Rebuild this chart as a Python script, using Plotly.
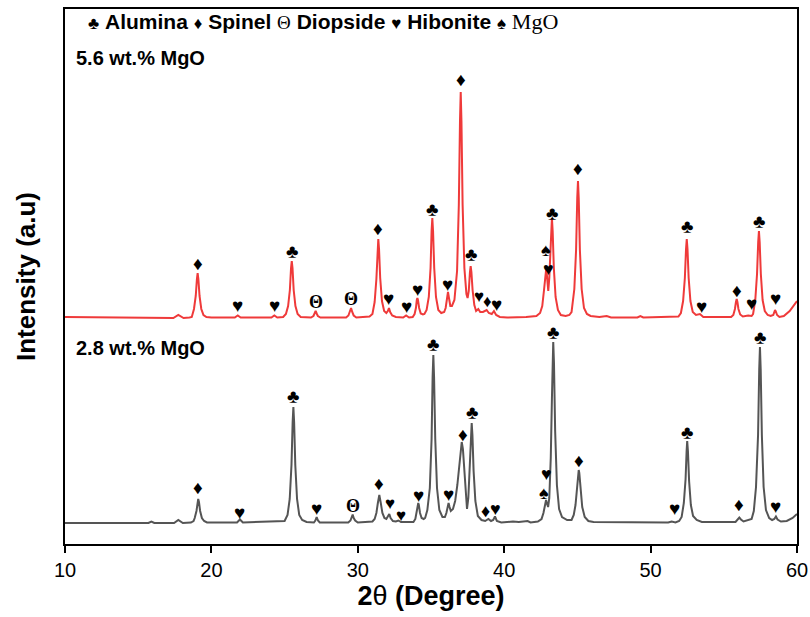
import numpy as np
import plotly.graph_objects as go

# ---------------- data: (2theta [deg], intensity above the pattern baseline [a.u.]) ----------------
pattern_56 = [
    (10.0, 1), (17.4, 0), (17.74, 3), (18.1, 0),
    (18.5, 0.5), (18.66, 1), (18.81, 9), (18.93, 22), (19.01, 39), (19.06, 45), (19.11, 39),
    (19.19, 22), (19.31, 9), (19.46, 3), (19.66, 1), (20.0, 0.5),
    (21.6, 0.5), (21.8, 2.5), (22.0, 0.5), (24.1, 0.5), (24.3, 2.5), (24.5, 0.5),
    (24.9, 1), (25.09, 4), (25.24, 12), (25.36, 28), (25.44, 50), (25.49, 57), (25.54, 50),
    (25.62, 28), (25.74, 12), (25.89, 4), (26.1, 1),
    (26.8, 0.5), (26.97, 2), (27.05, 4.5), (27.12, 7), (27.19, 4.5), (27.27, 2), (27.45, 0.5),
    (29.2, 0.5), (29.36, 2.5), (29.46, 6), (29.54, 10), (29.62, 6), (29.72, 2.5), (29.9, 0.5),
    (30.8, 1.5), (31.0, 4), (31.15, 16), (31.27, 39), (31.35, 69), (31.4, 79), (31.45, 69),
    (31.53, 40), (31.65, 17), (31.8, 7), (31.95, 5),
    (32.05, 7), (32.13, 10), (32.21, 6), (32.35, 2.5), (32.6, 1),
    (33.1, 0.5), (33.3, 2.5), (33.5, 0.5),
    (33.75, 1), (33.88, 4), (33.97, 10), (34.03, 18), (34.07, 20), (34.11, 18), (34.19, 10),
    (34.3, 4.5), (34.45, 3.5),
    (34.55, 4), (34.7, 8), (34.85, 21), (34.97, 50), (35.04, 87), (35.09, 100), (35.14, 87),
    (35.22, 50), (35.34, 21), (35.5, 8), (35.7, 5),
    (35.9, 6), (36.0, 10), (36.08, 19), (36.16, 26), (36.24, 19), (36.32, 12),
    (36.43, 12), (36.6, 18), (36.78, 47), (36.9, 113), (36.98, 197), (37.03, 226), (37.08, 197),
    (37.16, 113), (37.28, 50), (37.42, 24),
    (37.5, 20), (37.58, 27), (37.66, 46), (37.71, 52), (37.76, 46), (37.84, 28), (37.96, 13),
    (38.08, 7), (38.23, 9), (38.36, 6), (38.55, 6), (38.8, 8), (38.95, 5), (39.15, 4),
    (39.3, 7), (39.45, 3), (39.7, 1), (40.2, 0.5), (41.5, 1), (42.2, 2),
    (42.45, 5), (42.6, 12), (42.72, 28), (42.81, 44), (42.86, 48), (42.91, 44), (42.97, 30),
    (43.01, 27), (43.08, 40), (43.16, 75), (43.21, 93), (43.26, 100), (43.31, 87), (43.39, 50),
    (43.51, 21), (43.67, 8), (43.87, 3), (44.2, 2),
    (44.45, 3), (44.6, 6), (44.79, 29), (44.91, 68), (44.99, 120), (45.04, 137), (45.09, 120),
    (45.17, 68), (45.29, 29), (45.45, 10), (45.65, 4), (45.9, 2),
    (46.5, 1), (47.0, 2), (47.3, 0.5), (49.1, 0.5), (49.3, 2), (49.5, 0.5),
    (51.9, 1.5), (52.07, 5), (52.22, 17), (52.34, 40), (52.42, 69), (52.47, 79), (52.52, 69),
    (52.6, 40), (52.72, 17), (52.88, 6), (53.1, 3), (53.37, 4), (53.6, 1),
    (55.5, 1), (55.65, 3), (55.76, 9), (55.83, 16), (55.88, 19), (55.93, 16), (56.0, 9),
    (56.12, 3.5), (56.3, 1.5), (56.67, 2.5), (56.9, 2),
    (56.95, 3), (57.0, 4), (57.15, 18), (57.27, 44), (57.35, 76), (57.4, 87), (57.45, 76),
    (57.53, 44), (57.65, 18), (57.8, 7), (58.0, 3), (58.2, 2),
    (58.38, 3), (58.45, 6.5), (58.5, 8), (58.55, 6.5), (58.64, 3), (58.8, 1),
    (59.1, 2), (59.5, 7), (60.0, 17),
]

pattern_28 = [
    (10.0, 0), (15.7, 0), (15.9, 1.5), (16.1, 0), (17.45, 0), (17.74, 3), (18.05, 0),
    (18.6, 0.5), (18.78, 2), (18.86, 5), (18.98, 12), (19.05, 21), (19.1, 24), (19.15, 21),
    (19.23, 12), (19.35, 5), (19.5, 2), (19.7, 0.5),
    (21.75, 0.5), (21.95, 3.5), (22.15, 0.5),
    (25.0, 2), (25.2, 8), (25.35, 24), (25.47, 58), (25.55, 101), (25.6, 116), (25.65, 101),
    (25.73, 58), (25.85, 24), (26.0, 8), (26.2, 3), (26.5, 1),
    (27.0, 0.5), (27.1, 2.5), (27.19, 6), (27.28, 2.5), (27.4, 0.5),
    (29.35, 0.5), (29.5, 2.5), (29.58, 5), (29.65, 8.5), (29.72, 5), (29.82, 2.5), (30.0, 0.5),
    (31.0, 1.5), (31.15, 4), (31.27, 10), (31.37, 20), (31.47, 28), (31.57, 20), (31.68, 10),
    (31.82, 5), (31.95, 4),
    (32.07, 7), (32.15, 9), (32.24, 5), (32.4, 2), (32.6, 1.5), (32.77, 2.5), (32.95, 1),
    (33.8, 1), (33.93, 4), (34.02, 10), (34.09, 18), (34.13, 20), (34.17, 18), (34.25, 10),
    (34.36, 5), (34.5, 4),
    (34.6, 5), (34.75, 13), (34.92, 35), (35.04, 84), (35.11, 146), (35.16, 168), (35.21, 146),
    (35.29, 84), (35.41, 35), (35.57, 13), (35.78, 6),
    (35.95, 6), (36.05, 10), (36.13, 17), (36.2, 20), (36.27, 16), (36.35, 12),
    (36.5, 14), (36.65, 22), (36.8, 38), (36.92, 58), (37.02, 76), (37.1, 81), (37.18, 74),
    (37.28, 52), (37.38, 26), (37.46, 14),
    (37.55, 25), (37.65, 55), (37.73, 90), (37.78, 100), (37.83, 88), (37.91, 52), (38.03, 22),
    (38.2, 7), (38.45, 3), (38.7, 2), (38.92, 4), (39.1, 2), (39.25, 3), (39.37, 6.5),
    (39.5, 2), (39.8, 0.5), (40.6, 1.5), (41.0, 1), (41.6, 2), (41.8, 0.5), (42.3, 1.5),
    (42.55, 4), (42.68, 10), (42.78, 19), (42.86, 23), (42.93, 19), (43.0, 16), (43.08, 25),
    (43.18, 65), (43.26, 125), (43.31, 162), (43.35, 181), (43.4, 160), (43.48, 92), (43.6, 38),
    (43.75, 14), (43.95, 6), (44.3, 3),
    (44.6, 3), (44.75, 8), (44.87, 18), (44.98, 35), (45.05, 50), (45.09, 53), (45.13, 50),
    (45.21, 33), (45.33, 16), (45.5, 6), (45.75, 2), (46.1, 1),
    (51.2, 0.5), (51.44, 1.5), (51.7, 0.5),
    (51.95, 2), (52.12, 6), (52.27, 20), (52.39, 44), (52.46, 72), (52.5, 82), (52.55, 72),
    (52.63, 42), (52.75, 18), (52.9, 7), (53.15, 3), (53.5, 1),
    (55.8, 1), (55.96, 3.5), (56.06, 5.5), (56.17, 3.5), (56.35, 1.5),
    (56.9, 4), (57.05, 12), (57.2, 36), (57.34, 88), (57.42, 154), (57.47, 176), (57.52, 154),
    (57.6, 88), (57.72, 36), (57.88, 13), (58.1, 5), (58.3, 3),
    (58.45, 4), (58.56, 6.5), (58.67, 3.5), (58.9, 1.5), (59.3, 2), (59.7, 5), (60.0, 9),
]

# phase labels: (2theta, phase symbol, lift above the curve, glyph size)
marks_56 = [(19.06, "♦", 10, 19), (21.8, "♥", 10, 19), (24.3, "♥", 10, 19), (25.49, "♣", 10, 19),
            (27.12, "Θ", 9, 18), (29.54, "Θ", 9, 18), (31.4, "♦", 11, 19), (32.13, "♥", 10, 19),
            (33.3, "♥", 9, 19), (34.07, "♥", 9, 19), (35.09, "♣", 9, 19), (36.16, "♥", 8, 19),
            (37.03, "♦", 13, 19), (37.71, "♣", 12, 19), (38.3, "♥", 14, 17), (38.86, "♦", 10, 17),
            (39.5, "♥", 11, 19), (42.84, "♠", 22, 18), (43.04, "♥", 16, 18), (43.28, "♣", 10, 19),
            (45.04, "♦", 13, 19), (52.47, "♣", 13, 19), (53.49, "♥", 9, 19), (55.88, "♦", 9, 19),
            (56.86, "♥", 12, 19), (57.4, "♣", 10, 19), (58.5, "♥", 12, 19)]
marks_28 = [(19.1, "♦", 12, 19), (21.95, "♥", 7, 19), (25.6, "♣", 11, 19), (27.19, "♥", 9, 19),
            (29.65, "Θ", 9, 18), (31.47, "♦", 12, 19), (32.18, "♥", 12, 17), (32.97, "♥", 7, 17),
            (34.13, "♥", 8, 19), (35.16, "♣", 11, 19), (36.2, "♥", 9, 19), (37.16, "♦", 13, 19),
            (37.78, "♣", 11, 19), (38.69, "♦", 10, 18), (39.42, "♥", 9, 18), (42.69, "♠", 19, 18),
            (42.9, "♥", 28, 18), (43.35, "♣", 10, 19), (45.09, "♦", 10, 19), (51.6, "♥", 14, 19),
            (52.5, "♣", 9, 19), (56.06, "♦", 13, 19), (57.47, "♣", 10, 19), (58.56, "♥", 10, 19)]

x_ticks = [10, 20, 30, 40, 50, 60]
label_56 = "5.6 wt.% MgO"
label_28 = "2.8 wt.% MgO"

# ---------------- styling ----------------
offset_56 = 226   # vertical stacking offset of the 5.6 wt.% pattern
offset_28 = 21
RED = "#EF3A3A"
GREY = "#555555"
SANS = "Liberation Sans, Arial"

two_theta_56, intensity_56 = map(np.array, zip(*pattern_56))
two_theta_28, intensity_28 = map(np.array, zip(*pattern_28))
y56 = intensity_56 + offset_56
y28 = intensity_28 + offset_28

fig = go.Figure()
fig.add_trace(go.Scatter(x=two_theta_56, y=y56, mode="lines",
                         line=dict(color=RED, width=2), hoverinfo="skip", showlegend=False))
fig.add_trace(go.Scatter(x=two_theta_28, y=y28, mode="lines",
                         line=dict(color=GREY, width=2), hoverinfo="skip", showlegend=False))


def add_marks(marks, xs, ys):
    for x, sym, lift, size in marks:
        yv = float(np.interp(x, xs, ys)) + lift
        if sym == "Θ":
            font = dict(family="Liberation Serif", size=size, color="black")
            txt = "<b>Θ</b>"
        else:
            font = dict(family=SANS, size=size, color="black")
            txt = sym
        fig.add_annotation(x=x, y=yv, xref="x", yref="y", text=txt, showarrow=False,
                           font=font, xanchor="center", yanchor="middle")


add_marks(marks_56, two_theta_56, y56)
add_marks(marks_28, two_theta_28, y28)

legend_txt = ("<span style='font-size:17px'>♣</span> <b>Alumina</b> "
              "<span style='font-size:17px'>♦</span> <b>Spinel</b> "
              "<span style='font-family:Liberation Serif;font-size:19px'>Θ</span> <b>Diopside</b> "
              "<span style='font-size:17px'>♥</span> <b>Hibonite</b> "
              "<span style='font-size:17px'>♠</span> "
              "<span style='font-family:Liberation Serif;font-size:22px'>MgO</span>")
fig.add_annotation(xref="paper", yref="paper", x=0.029, y=0.976, text=legend_txt,
                   showarrow=False, xanchor="left", yanchor="middle",
                   font=dict(family=SANS, size=21, color="black"))
for lbl, ypos in [(label_56, 0.908), (label_28, 0.366)]:
    fig.add_annotation(xref="paper", yref="paper", x=0.012, y=ypos, text="<b>" + lbl + "</b>",
                       showarrow=False, xanchor="left", yanchor="middle",
                       font=dict(family=SANS, size=20, color="black"))

fig.update_layout(
    width=810, height=617,
    margin=dict(l=65, r=13, t=9, b=73),
    paper_bgcolor="white", plot_bgcolor="white",
    font=dict(family=SANS, color="black"),
    xaxis=dict(range=[10, 60], tickvals=x_ticks, ticks="outside", ticklen=7, tickwidth=1.5,
               tickcolor="black", showline=True, linecolor="black", linewidth=1.5, mirror=True,
               showgrid=False, zeroline=False, tickfont=dict(size=20), automargin=False,
               title=dict(text="<b>2</b>θ <b>(Degree)</b>", font=dict(size=27), standoff=2)),
    yaxis=dict(range=[0, 535], showticklabels=False, ticks="", showline=True, linecolor="black",
               linewidth=1.5, mirror=True, showgrid=False, zeroline=False, automargin=False,
               title=dict(text="<b>Intensity (a.u)</b>", font=dict(size=26), standoff=20)),
)

fig.write_html("out.html", config={"displayModeBar": False},
               post_script="document.body.style.margin='0px';")
